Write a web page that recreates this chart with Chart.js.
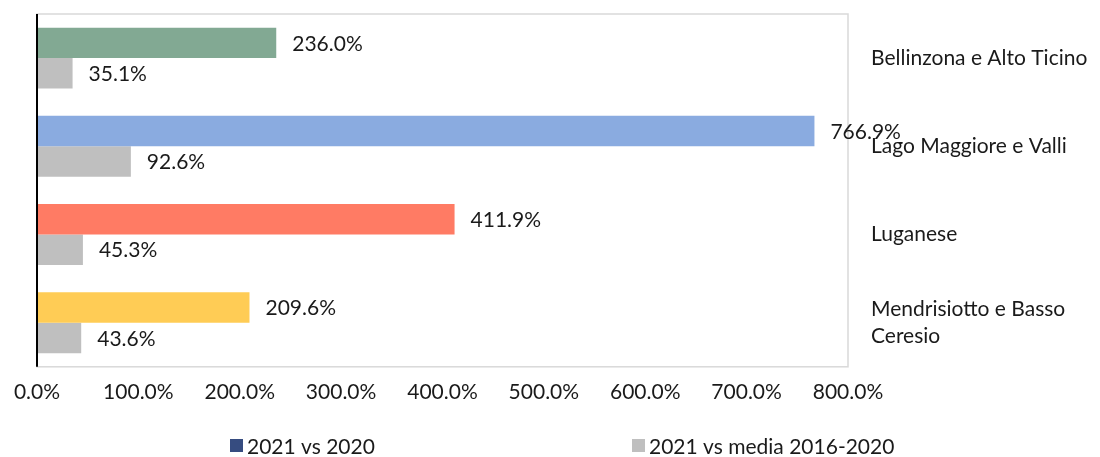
<!DOCTYPE html>
<html lang="it">
<head>
  <meta charset="UTF-8">
  <title>2021 vs 2020</title>
  <script src="https://cdn.jsdelivr.net/npm/chart.js"></script>
  <style>
    body { margin: 0; padding: 0; background: #ffffff; }
    #wrap { width: 1100px; height: 457px; }
  </style>
</head>
<body>
<div id="wrap">
  <canvas id="barChart" width="1100" height="457"></canvas>
</div>
<script>
  const regions = [
    'Bellinzona e Alto Ticino',
    'Lago Maggiore e Valli',
    'Luganese',
    ['Mendrisiotto e Basso', 'Ceresio']
  ];
  const vs2020 = [236.0, 766.9, 411.9, 209.6];
  const vsMedia = [35.1, 92.6, 45.3, 43.6];
  const seriesNames = ['2021 vs 2020', '2021 vs media 2016-2020'];
  const regionColors = ['#82a993', '#8aabe0', '#ff7b64', '#ffcc55'];
  const mediaColor = '#bfbfbf';
  const legendColors = ['#364c80', '#bfbfbf'];

  const textColor = '#1a1a1a';
  const fontFamily = 'Lato, "Open Sans", sans-serif';
  const fontSize = 21;

  // frame: grey top/right/bottom, black axis on the left
  const frame = {
    id: 'frame',
    beforeDatasetsDraw(chart) {
      const a = chart.chartArea;
      const ctx = chart.ctx;
      ctx.save();
      ctx.strokeStyle = '#d9d9d9';
      ctx.lineWidth = 1.5;
      ctx.strokeRect(a.left, a.top, a.right - a.left, a.bottom - a.top);
      ctx.restore();
    },
    afterDatasetsDraw(chart) {
      const a = chart.chartArea;
      const ctx = chart.ctx;
      ctx.save();
      ctx.strokeStyle = '#000000';
      ctx.lineWidth = 2;
      ctx.beginPath();
      ctx.moveTo(a.left, a.top);
      ctx.lineTo(a.left, a.bottom);
      ctx.stroke();
      ctx.restore();
    }
  };

  // value labels to the right of each bar
  const valueLabels = {
    id: 'valueLabels',
    afterDatasetsDraw(chart) {
      const ctx = chart.ctx;
      ctx.save();
      ctx.font = fontSize + 'px ' + fontFamily;
      ctx.fillStyle = textColor;
      ctx.textAlign = 'left';
      ctx.textBaseline = 'middle';
      chart.data.datasets.forEach((ds, i) => {
        chart.getDatasetMeta(i).data.forEach((bar, j) => {
          ctx.fillText(ds.data[j].toFixed(1) + '%', bar.x + 16, bar.y + 1);
        });
      });
      ctx.restore();
    }
  };

  // wide-spaced legend at the bottom (built-in legend can't space items this far)
  const legendX = [230, 632];
  const bottomLegend = {
    id: 'bottomLegend',
    afterDraw(chart) {
      const ctx = chart.ctx;
      const y = 446;
      ctx.save();
      ctx.font = fontSize + 'px ' + fontFamily;
      ctx.textAlign = 'left';
      ctx.textBaseline = 'middle';
      chart.data.datasets.forEach((ds, i) => {
        const x = legendX[i];
        ctx.fillStyle = legendColors[i];
        ctx.fillRect(x, y - 7, 13, 13);
        ctx.fillStyle = textColor;
        ctx.fillText(ds.label, x + 17, y + 1);
      });
      ctx.restore();
    }
  };

  const ctx = document.getElementById('barChart').getContext('2d');
  new Chart(ctx, {
    type: 'bar',
    data: {
      labels: regions,
      datasets: [
        { label: seriesNames[0], data: vs2020, backgroundColor: regionColors },
        { label: seriesNames[1], data: vsMedia, backgroundColor: mediaColor }
      ]
    },
    options: {
      indexAxis: 'y',
      responsive: false,
      animation: false,
      layout: { padding: { left: 37, top: 14, right: 0, bottom: 39 } },
      datasets: {
        bar: { categoryPercentage: 0.69, barPercentage: 1.0 }
      },
      scales: {
        x: {
          min: 0,
          max: 800,
          grid: { display: false, drawTicks: false },
          border: { display: false },
          afterFit(scale) {
            scale.paddingLeft = 0;
            scale.paddingRight = 0;
          },
          ticks: {
            stepSize: 100,
            padding: 13,
            maxRotation: 0,
            color: textColor,
            font: { family: fontFamily, size: fontSize },
            callback: v => v.toFixed(1) + '%'
          }
        },
        y: {
          position: 'right',
          grid: { display: false, drawTicks: false },
          border: { display: false },
          afterFit(scale) {
            scale.width = 252;
            scale.paddingTop = 0;
            scale.paddingBottom = 0;
          },
          ticks: {
            autoSkip: false,
            crossAlign: 'near',
            padding: 23,
            color: textColor,
            font: { family: fontFamily, size: fontSize, lineHeight: 1.3 }
          }
        }
      },
      plugins: {
        tooltip: { enabled: false },
        legend: { display: false }
      }
    },
    plugins: [frame, valueLabels, bottomLegend]
  });
</script>
</body>
</html>
